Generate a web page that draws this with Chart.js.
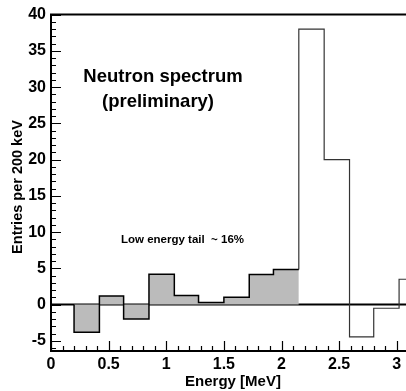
<!DOCTYPE html>
<html>
<head>
<meta charset="utf-8">
<script src="https://cdn.jsdelivr.net/npm/chart.js@4.4.0/dist/chart.umd.min.js"></script>
<style>
  html, body { margin: 0; padding: 0; background: #fff; }
  #wrap { width: 406px; height: 391px; position: relative; }
</style>
</head>
<body>
<div id="wrap"><canvas id="neutronChart"></canvas></div>
<script>
// bin edges (MeV) and entries per bin
const binEdges = [0.2, 0.42, 0.63, 0.85, 1.07, 1.28, 1.5, 1.72, 1.93, 2.15, 2.37, 2.59, 2.8, 3.02, 3.24];
const tailValues = [-3.8, 1.2, -2.0, 4.2, 1.25, 0.3, 1.0, 4.15, 4.85];   // shaded low energy tail
const peakValues = [38, 20, -4.45, -0.5, 3.5];                          // rest of spectrum
const xTicks = [0, 0.5, 1, 1.5, 2, 2.5, 3];
const yTicks = [-5, 0, 5, 10, 15, 20, 25, 30, 35, 40];

const FONT = '"Liberation Sans", Arial, Helvetica, sans-serif';

// step outline points from edges + values
function stepPoints(edges, values, startY) {
    const pts = [{x: edges[0], y: startY}];
    values.forEach((v, i) => {
        pts.push({x: edges[i], y: v});
        pts.push({x: edges[i + 1], y: v});
    });
    return pts;
}

const tailPts = stepPoints(binEdges.slice(0, tailValues.length + 1), tailValues, 0);
const peakPts = stepPoints(binEdges.slice(tailValues.length), peakValues, tailValues[tailValues.length - 1]);

const framePlugin = {
    id: 'frame',
    beforeDatasetsDraw(chart) {
        const {ctx, chartArea: a, scales: {y}} = chart;
        // zero line
        ctx.save();
        ctx.strokeStyle = '#000';
        ctx.lineWidth = 2;
        ctx.beginPath();
        ctx.moveTo(a.left, y.getPixelForValue(0));
        ctx.lineTo(a.right, y.getPixelForValue(0));
        ctx.stroke();
        ctx.restore();
    },
    afterDraw(chart) {
        const {ctx, chartArea: a, scales: {x, y}} = chart;
        ctx.save();
        ctx.strokeStyle = '#000';
        ctx.lineWidth = 2;
        ctx.beginPath();
        ctx.moveTo(a.right, a.top);
        ctx.lineTo(a.left, a.top);
        ctx.lineTo(a.left, a.bottom);
        ctx.lineTo(a.right, a.bottom);
        ctx.stroke();

        ctx.lineWidth = 1.2;
        ctx.beginPath();
        for (let i = -6; i <= 40; i++) {
            const py = Math.round(y.getPixelForValue(i)) + 0.5;
            const len = i % 5 === 0 ? 10 : 5;
            ctx.moveTo(a.left, py);
            ctx.lineTo(a.left + len, py);
        }
        for (let i = 0; i <= 30; i++) {
            const px = Math.round(x.getPixelForValue(i / 10)) + 0.5;
            if (px > a.right) break;
            const len = i % 5 === 0 ? 10 : 5;
            ctx.moveTo(px, a.bottom);
            ctx.lineTo(px, a.bottom - len);
        }
        ctx.stroke();

        // axis titles
        ctx.fillStyle = '#000';
        ctx.textAlign = 'center';
        ctx.textBaseline = 'middle';
        ctx.font = 'bold 15px ' + FONT;
        ctx.fillText('Energy [MeV]', 233, 382);
        ctx.save();
        ctx.translate(18, 187);
        ctx.rotate(-Math.PI / 2);
        ctx.font = 'bold 14.5px ' + FONT;
        ctx.fillText('Entries per 200 keV', 0, 0);
        ctx.restore();

        // annotations
        ctx.font = 'bold 18.5px ' + FONT;
        ctx.fillText('Neutron spectrum', 163, 77);
        ctx.fillText('(preliminary)', 158, 102);
        ctx.font = 'bold 11.5px ' + FONT;
        ctx.textAlign = 'left';
        ctx.fillText('Low energy tail  ~ 16%', 121, 240);
        ctx.restore();
    }
};

const ctx = document.getElementById('neutronChart').getContext('2d');
const neutronChart = new Chart(ctx, {
    type: 'line',
    data: {
        datasets: [{
            label: 'tail',
            data: tailPts,
            borderColor: '#000',
            borderWidth: 1.5,
            backgroundColor: '#bbbbbb',
            fill: 'origin',
            pointRadius: 0,
            tension: 0
        }, {
            label: 'spectrum',
            data: peakPts,
            borderColor: '#333',
            borderWidth: 1.2,
            fill: false,
            pointRadius: 0,
            tension: 0
        }]
    },
    plugins: [framePlugin],
    options: {
        responsive: true,
        maintainAspectRatio: false,
        animation: false,
        layout: { padding: { top: 11, right: 0, left: 0, bottom: 0 } },
        plugins: { legend: { display: false }, tooltip: { enabled: false } },
        scales: {
            x: {
                type: 'linear',
                min: 0,
                max: 3.08,
                grid: { display: false, drawTicks: false },
                border: { display: false },
                afterBuildTicks: s => { s.ticks = xTicks.map(v => ({value: v})); },
                afterFit: s => { s.height = 40; },
                ticks: {
                    padding: 4,
                    color: '#000',
                    font: { family: FONT, size: 16, weight: 'bold' },
                    callback: v => String(v)
                }
            },
            y: {
                min: -6.4,
                max: 40,
                grid: { display: false, drawTicks: false },
                border: { display: false },
                afterBuildTicks: s => { s.ticks = yTicks.map(v => ({value: v})); },
                afterFit: s => { s.width = 51; },
                ticks: {
                    padding: 5,
                    color: '#000',
                    font: { family: FONT, size: 16, weight: 'bold' },
                    callback: v => String(v)
                }
            }
        }
    }
});
</script>
</body>
</html>
